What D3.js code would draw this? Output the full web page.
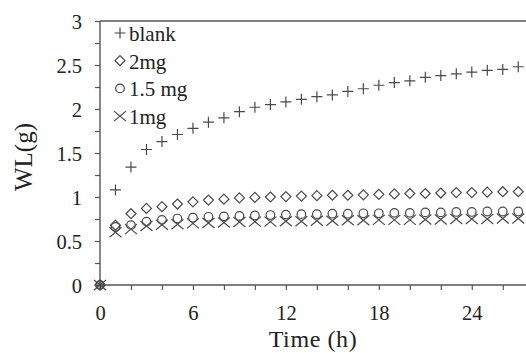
<!DOCTYPE html>
<html>
<head>
<meta charset="utf-8">
<script src="https://cdn.jsdelivr.net/npm/d3@7"></script>
<style>
  body { margin: 0; background: #fff; }
  text { font-family: "Liberation Serif", "Times New Roman", serif; fill: #222; }
</style>
</head>
<body>
<div id="chart"></div>
<script>
// Data
var hours = d3.range(0, 28);
var blank = [0, 1.08, 1.34, 1.54, 1.63, 1.71, 1.78, 1.85, 1.9, 1.97, 2.02, 2.05, 2.08, 2.11,
  2.14, 2.16, 2.2, 2.23, 2.27, 2.3, 2.32, 2.36, 2.38, 2.4, 2.42, 2.44, 2.45, 2.48];
var mg2 = [0, 0.68, 0.81, 0.87, 0.89, 0.92, 0.945, 0.965, 0.975, 0.99, 0.995, 1.0, 1.005, 1.01,
  1.015, 1.02, 1.02, 1.025, 1.03, 1.035, 1.04, 1.04, 1.045, 1.05, 1.05, 1.055, 1.06, 1.06];
var mg15 = [0, 0.66, 0.68, 0.72, 0.74, 0.755, 0.765, 0.775, 0.78, 0.785, 0.79, 0.795, 0.8, 0.805,
  0.805, 0.81, 0.81, 0.815, 0.815, 0.82, 0.82, 0.825, 0.825, 0.83, 0.83, 0.835, 0.835, 0.835];
var mg1 = [0, 0.6, 0.635, 0.67, 0.685, 0.69, 0.7, 0.705, 0.71, 0.715, 0.72, 0.72, 0.725, 0.725,
  0.73, 0.73, 0.735, 0.735, 0.74, 0.74, 0.74, 0.745, 0.745, 0.75, 0.75, 0.75, 0.755, 0.755];
var seriesNames = ["blank", "2mg", "1.5 mg", "1mg"];
var seriesMarkers = ["plus", "diamond", "circle", "cross"];
var xTickLabels = [0, 6, 12, 18, 24];
var yTickLabels = [0, 0.5, 1, 1.5, 2, 2.5, 3];

var svgWidth = 526;
var svgHeight = 353;
var margin = { top: 21, right: 0, bottom: 68, left: 100 };
var chartWidth = svgWidth - margin.left - margin.right;
var chartHeight = svgHeight - margin.top - margin.bottom;

var svg = d3.select("#chart")
  .append("svg")
  .attr("width", svgWidth)
  .attr("height", svgHeight);

var chartGroup = svg.append("g")
  .attr("transform", `translate(${margin.left}, ${margin.top})`);

var xScale = d3.scaleLinear().domain([0, 27.5]).range([0, chartWidth]);
var yScale = d3.scaleLinear().domain([0, 3]).range([chartHeight, 0]);

// marker shapes, thin outline like the original
function markerPath(type) {
  if (type === "plus") return "M-5.5,0H5.5M0,-5.5V5.5";
  if (type === "diamond") return "M0,-5L5,0L0,5L-5,0Z";
  if (type === "circle") return "M4.3,0A4.3,4.3 0 1,1 -4.3,0A4.3,4.3 0 1,1 4.3,0Z";
  return "M-6,-5L6,5M-6,5L6,-5";
}

var axisColor = "#555";

// axes
var bottomAxis = d3.axisBottom(xScale)
  .tickValues(d3.range(0, 28, 2))
  .tickSize(5)
  .tickFormat(d => xTickLabels.includes(d) ? d : "");
var leftAxis = d3.axisLeft(yScale)
  .tickValues(d3.range(0, 3.01, 0.25))
  .tickSize(5)
  .tickFormat(d => yTickLabels.includes(d) ? d : "");

var xAxisG = chartGroup.append("g")
  .attr("transform", `translate(0, ${chartHeight})`)
  .call(bottomAxis);
var yAxisG = chartGroup.append("g").call(leftAxis);

[xAxisG, yAxisG].forEach(function(g) {
  g.select(".domain").remove();
  g.selectAll("line").attr("stroke", axisColor).attr("stroke-width", 1.2);
  g.selectAll("text")
    .style("font-family", "Liberation Serif, serif")
    .style("font-size", "20.5px")
    .attr("fill", "#222");
});
xAxisG.selectAll("text").attr("y", 20);
yAxisG.selectAll("text").attr("x", -18).attr("dy", "0.36em");

// axis lines and top border
chartGroup.append("line")
  .attr("x1", 0).attr("x2", chartWidth)
  .attr("y1", chartHeight).attr("y2", chartHeight)
  .attr("stroke", axisColor).attr("stroke-width", 1.4);
chartGroup.append("line")
  .attr("x1", 0).attr("x2", 0)
  .attr("y1", 0).attr("y2", chartHeight)
  .attr("stroke", axisColor).attr("stroke-width", 1.4);
chartGroup.append("line")
  .attr("x1", 0).attr("x2", chartWidth)
  .attr("y1", 0).attr("y2", 0)
  .attr("stroke", axisColor).attr("stroke-width", 1.4);

// points
var allSeries = [blank, mg2, mg15, mg1];
allSeries.forEach(function(values, i) {
  chartGroup.append("g").selectAll("path")
    .data(hours)
    .enter()
    .append("path")
    .attr("d", markerPath(seriesMarkers[i]))
    .attr("transform", (h, j) => `translate(${xScale(h)}, ${yScale(values[j])})`)
    .attr("fill", "none")
    .attr("stroke", "#4a4a4a")
    .attr("stroke-width", 1.2);
});

// legend
var legend = svg.append("g").attr("transform", "translate(120, 33)");
seriesNames.forEach(function(name, i) {
  var row = legend.append("g").attr("transform", `translate(0, ${i * 27.7})`);
  row.append("path")
    .attr("d", markerPath(seriesMarkers[i]))
    .attr("fill", "none")
    .attr("stroke", "#444")
    .attr("stroke-width", 1.2);
  row.append("text")
    .attr("x", 9)
    .attr("y", 8)
    .attr("font-size", "21px")
    .text(name);
});

// axis titles
svg.append("text")
  .attr("x", margin.left + 213)
  .attr("y", 347)
  .attr("text-anchor", "middle")
  .attr("font-size", "24px")
  .attr("letter-spacing", "0.6px")
  .text("Time (h)");

svg.append("text")
  .attr("transform", "translate(32, 157) rotate(-90)")
  .attr("text-anchor", "middle")
  .attr("font-size", "25px")
  .text("WL(g)");
</script>
</body>
</html>
